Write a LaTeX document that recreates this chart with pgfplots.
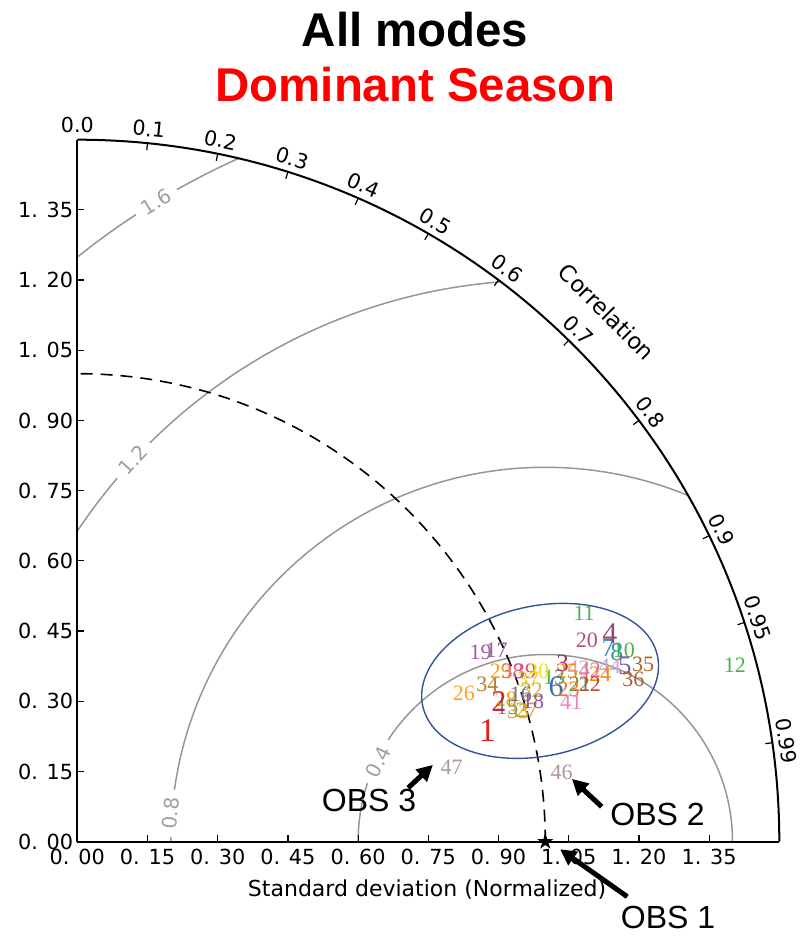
\documentclass[border=0pt]{standalone}
\usepackage{pgfplots}
\pgfplotsset{compat=1.18}
\usepackage{fontspec}
\setmainfont{DejaVu Sans}
\newfontfamily\titlefont{Liberation Sans}
\newfontfamily\lfont{Liberation Serif}
\usetikzlibrary{arrows.meta,shapes.geometric}

\definecolor{cgray}{RGB}{150,150,150}
\definecolor{lgray}{RGB}{160,160,160}
\definecolor{ellblue}{HTML}{2F5597}
\definecolor{cRed}{HTML}{E41A1C}
\definecolor{cCrim}{HTML}{C8283C}
\definecolor{cMag}{HTML}{9C3066}
\definecolor{cPlum}{HTML}{8C4A7C}
\definecolor{cPurp}{HTML}{7A62A8}
\definecolor{cBlue}{HTML}{3A6EB0}
\definecolor{cSteel}{HTML}{3A88B8}
\definecolor{cTeal}{HTML}{3A9A9A}
\definecolor{cGreen}{HTML}{4DAF4A}
\definecolor{cGreenB}{HTML}{4A9A50}
\definecolor{cSlateG}{HTML}{6A8A80}
\definecolor{cSlate}{HTML}{707090}
\definecolor{cViol}{HTML}{9060A8}
\definecolor{cViolB}{HTML}{9050B0}
\definecolor{cMagP}{HTML}{A858A0}
\definecolor{cRose}{HTML}{B0507A}
\definecolor{cBrRed}{HTML}{C04A30}
\definecolor{cOrA}{HTML}{F07820}
\definecolor{cOrB}{HTML}{FF8000}
\definecolor{cOrC}{HTML}{F58A00}
\definecolor{cOrL}{HTML}{FFA030}
\definecolor{cOrG}{HTML}{F0A000}
\definecolor{cOrD}{HTML}{FF9A20}
\definecolor{cYel}{HTML}{F0E020}
\definecolor{cYelB}{HTML}{E8D820}
\definecolor{cOlive}{HTML}{C8B030}
\definecolor{cGold}{HTML}{D0A020}
\definecolor{cTan}{HTML}{B08030}
\definecolor{cBrown}{HTML}{B06020}
\definecolor{cBrownR}{HTML}{B05A30}
\definecolor{cPink}{HTML}{E06080}
\definecolor{cPinkM}{HTML}{D05090}
\definecolor{cPinkL}{HTML}{F080C0}
\definecolor{cPinkC}{HTML}{E07098}
\definecolor{cPinkLL}{HTML}{E0A0C8}
\definecolor{cLav}{HTML}{C8A0D0}
\definecolor{cGrayP}{HTML}{A89898}

\pgfdeclareplotmark{fstar}{%
  \pgfpathmoveto{\pgfqpointpolar{90}{\pgfplotmarksize}}%
  \pgfpathlineto{\pgfqpointpolar{126}{0.382\pgfplotmarksize}}%
  \pgfpathlineto{\pgfqpointpolar{162}{\pgfplotmarksize}}%
  \pgfpathlineto{\pgfqpointpolar{198}{0.382\pgfplotmarksize}}%
  \pgfpathlineto{\pgfqpointpolar{234}{\pgfplotmarksize}}%
  \pgfpathlineto{\pgfqpointpolar{270}{0.382\pgfplotmarksize}}%
  \pgfpathlineto{\pgfqpointpolar{306}{\pgfplotmarksize}}%
  \pgfpathlineto{\pgfqpointpolar{342}{0.382\pgfplotmarksize}}%
  \pgfpathlineto{\pgfqpointpolar{18}{\pgfplotmarksize}}%
  \pgfpathlineto{\pgfqpointpolar{54}{0.382\pgfplotmarksize}}%
  \pgfpathclose\pgfusepathqfillstroke}

\pgfplotsset{
  lbl/.style={draw=none, mark=none, nodes near coords, point meta=explicit symbolic,
    every node near coord/.append style={anchor=center, inner sep=0pt, text=#1,
      font=\lfont\fontsize{11}{11}\selectfont}},
  big/.style={every node near coord/.append style={font=\lfont\fontsize{#1}{#1}\selectfont}},
}

\begin{document}
\begin{tikzpicture}
\useasboundingbox (-38.65pt,-47.65pt) rectangle (365.35pt,420.85pt);

% RMS contours and reference std arc
\begin{scope}
  \clip (0,0) -- (351pt,0) arc[start angle=0, end angle=90, radius=351pt] -- cycle;
  \foreach \r in {93.6,187.2,280.8,374.4}
    \draw[cgray, line width=0.75pt] (234pt,0) circle[radius=\r pt];
  \draw[black, line width=0.8pt, dash pattern=on 6pt off 4pt] (234pt,0) arc[start angle=0, end angle=90, radius=234pt];
\end{scope}
\foreach \px/\py/\rot/\t in {39.5/319.9/31.3/1.6, 28.0/190.8/47.2/1.2, 46.7/14.2/85.6/0.8, 150.5/40.0/64/0.4}
  \node[rotate=\rot, fill=white, inner xsep=4pt, inner ysep=0.5pt, text=lgray,
        font=\fontsize{10}{12}\selectfont] at (\px pt,\py pt) {\t};

% outer arc, correlation ticks and labels
\draw[black, line width=1pt] (351pt,0) arc[start angle=0, end angle=90, radius=351pt];
\foreach \c in {0.0,0.1,0.2,0.3,0.4,0.5,0.6,0.7,0.8,0.9,0.95,0.99} {
  \pgfmathsetmacro\ang{acos(\c)}
  \draw[black, line width=0.6pt] (\ang:351pt) -- (\ang:347.5pt);
  \node[rotate=\ang-90, anchor=south, inner sep=2pt, font=\fontsize{10.3}{12}\selectfont] at (\ang:352pt) {\c};
}
\node[rotate=-45, font=\fontsize{11.3}{13}\selectfont] at (45:374.5pt) {Correlation};

\begin{axis}[
  at={(0,0)}, anchor=south west,
  x=234pt, y=234pt,
  xmin=0, xmax=1.5, ymin=0, ymax=1.5,
  axis x line*=bottom, axis y line*=left,
  axis line style={line width=1.1pt, -},
  tick align=inside, major tick length=3.5pt,
  tick style={black, line width=0.6pt},
  xtick={0,0.15,0.3,0.45,0.6,0.75,0.9,1.05,1.2,1.35},
  ytick={0,0.15,0.3,0.45,0.6,0.75,0.9,1.05,1.2,1.35},
  xticklabels={0. 00,0. 15,0. 30,0. 45,0. 60,0. 75,0. 90,1. 05,1. 20,1. 35},
  yticklabels={0. 00,0. 15,0. 30,0. 45,0. 60,0. 75,0. 90,1. 05,1. 20,1. 35},
  ticklabel style={font=\fontsize{10.4}{12}\selectfont},
  yticklabel style={xshift=1.5pt},
  clip=false,
]
\addplot[lbl=cGreen] coordinates {(1.083,0.489) [11] (1.405,0.378) [12] (1.168,0.410) [10] (1.019,0.351) [13]};
\addplot[lbl=cGreenB] coordinates {(1.074,0.337) [21]};
\addplot[lbl=cRose] coordinates {(1.089,0.430) [20]};
\addplot[lbl=cSteel, big=13] coordinates {(1.134,0.413) [7]};
\addplot[lbl=cTeal, big=13] coordinates {(1.153,0.406) [8]};
\addplot[lbl=cPlum, big=15] coordinates {(1.138,0.445) [4]};
\addplot[lbl=cLav] coordinates {(1.138,0.374) [44]};
\addplot[lbl=cOrB] coordinates {(1.117,0.358) [24]};
\addplot[lbl=cPurp, big=13.5] coordinates {(1.170,0.375) [5]};
\addplot[lbl=cBrown] coordinates {(1.209,0.380) [35]};
\addplot[lbl=cBrownR] coordinates {(1.188,0.346) [36]};
\addplot[lbl=cMag, big=12.5] coordinates {(1.037,0.382) [3]};
\addplot[lbl=cPinkLL] coordinates {(1.071,0.370) [43]};
\addplot[lbl=cPinkC] coordinates {(1.095,0.367) [42]};
\addplot[lbl=cOrC] coordinates {(1.046,0.363) [25]};
\addplot[lbl=cBlue, big=15] coordinates {(1.023,0.331) [6]};
\addplot[lbl=cOrA] coordinates {(1.050,0.326) [23]};
\addplot[lbl=cBrRed] coordinates {(1.095,0.337) [22]};
\addplot[lbl=cPinkL] coordinates {(1.055,0.297) [41]};
\addplot[lbl=cMagP] coordinates {(0.862,0.405) [19]};
\addplot[lbl=cViol] coordinates {(0.896,0.410) [17]};
\addplot[lbl=cOrL] coordinates {(0.826,0.318) [26]};
\addplot[lbl=cTan] coordinates {(0.876,0.336) [34]};
\addplot[lbl=cOrD] coordinates {(0.905,0.365) [29]};
\addplot[lbl=cPink] coordinates {(0.930,0.365) [38]};
\addplot[lbl=cPinkM] coordinates {(0.957,0.365) [39]};
\addplot[lbl=cYel] coordinates {(0.985,0.364) [30]};
\addplot[lbl=cYelB] coordinates {(0.964,0.347) [37]};
\addplot[lbl=cOlive] coordinates {(0.971,0.324) [32]};
\addplot[lbl=cOrG] coordinates {(0.916,0.304) [28]};
\addplot[lbl=cSlateG] coordinates {(0.919,0.288) [15]};
\addplot[lbl=cSlate] coordinates {(0.948,0.314) [16]};
\addplot[lbl=cGold] coordinates {(0.942,0.278) [33] (0.960,0.281) [27]};
\addplot[lbl=cViolB] coordinates {(0.974,0.299) [18]};
\addplot[lbl=cCrim, big=15] coordinates {(0.901,0.299) [2]};
\addplot[lbl=cRed, big=16.5] coordinates {(0.876,0.237) [1]};
\addplot[lbl=cGrayP] coordinates {(1.035,0.149) [46] (0.800,0.158) [47]};
\addplot[only marks, mark=fstar, mark size=3.6pt, black] coordinates {(1,0)};
\end{axis}

% ellipse around the models
\node[draw=ellblue, line width=0.7pt, ellipse, inner sep=0pt, minimum width=120pt, minimum height=75pt, rotate=12] at (231.4pt,80.4pt) {};

% arrows and OBS labels
\draw[line width=2.5pt, -{Triangle[length=8pt,width=8pt]}] (165.4pt,26.9pt) -- (177.8pt,38.4pt);
\draw[line width=2.5pt, -{Triangle[length=8pt,width=8pt]}] (262.2pt,17.5pt) -- (247.3pt,31.4pt);
\draw[line width=2.5pt, -{Triangle[length=8pt,width=8pt]}] (275.0pt,-27.5pt) -- (241.4pt,-3.8pt);
\node[font=\titlefont\fontsize{16}{18}\selectfont] at (145.9pt,20.4pt) {OBS 3};
\node[font=\titlefont\fontsize{16}{18}\selectfont] at (290.1pt,13.4pt) {OBS 2};
\node[font=\titlefont\fontsize{16}{18}\selectfont] at (295.4pt,-37.9pt) {OBS 1};

% axis label
\node[anchor=base, font=\fontsize{11}{13}\selectfont] at (174.9pt,-27.5pt) {Standard deviation (Normalized)};

% titles
\node[anchor=base, font=\titlefont\bfseries\fontsize{23.7}{28}\selectfont] at (168.9pt,397.5pt) {All modes};
\node[anchor=base, text=red, font=\titlefont\bfseries\fontsize{23.7}{28}\selectfont] at (169.2pt,370.3pt) {Dominant Season};
\end{tikzpicture}
\end{document}
